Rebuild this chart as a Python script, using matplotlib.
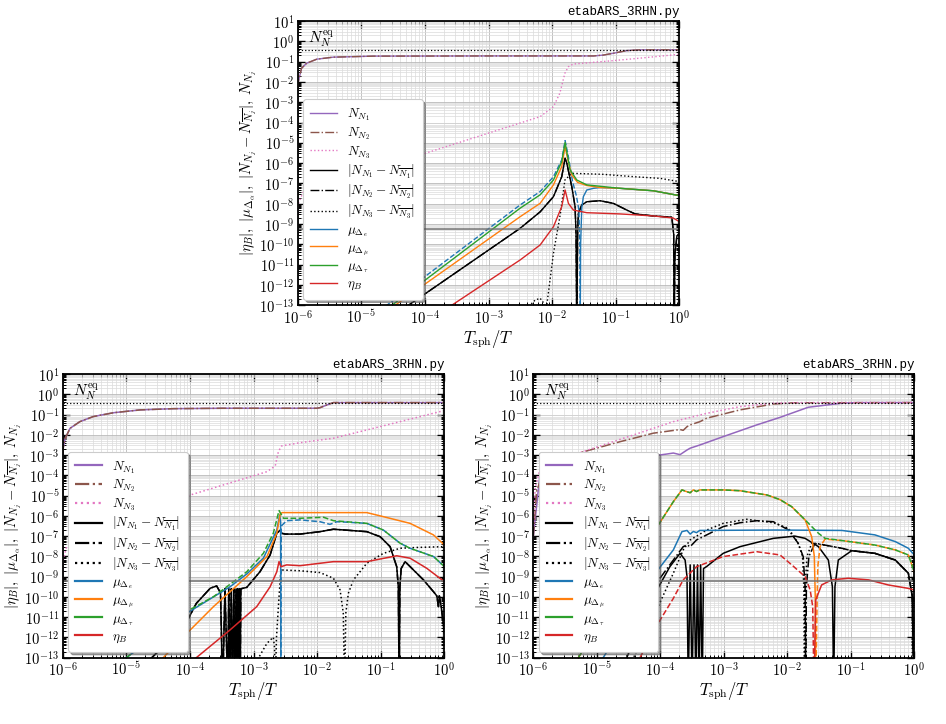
import numpy as np
import matplotlib
matplotlib.use('Agg')
import matplotlib.pyplot as plt
from matplotlib.ticker import LogLocator, FuncFormatter, NullFormatter
from matplotlib.lines import Line2D

plt.rcParams['mathtext.fontset'] = 'cm'
plt.rcParams['font.family'] = ['DejaVu Serif']
plt.rcParams['axes.unicode_minus'] = True

# ---------------- data: (log10 x, log10 y) points ----------------
# x = T_sph/T, y = quantity ; dips below the axis mark sign changes

# ===== top panel =====
TOP_NN1 = [(-6.0, -2.3), (-5.99, -1.99), (-5.94, -1.33), (-5.86, -1.08), (-5.70, -0.88), (-5.44, -0.78),
           (-4.81, -0.73), (-3.0, -0.72), (-1.35, -0.72), (-1.2, -0.68), (-1.04, -0.59), (-0.83, -0.46),
           (-0.62, -0.42), (0.0, -0.42)]
TOP_NN2 = [(-6.0, -2.3), (-5.99, -1.99), (-5.94, -1.33), (-5.86, -1.08), (-5.70, -0.88), (-5.44, -0.78),
           (-4.81, -0.73), (-3.0, -0.72), (-1.35, -0.72), (-1.2, -0.68), (-1.04, -0.59), (-0.83, -0.46),
           (-0.62, -0.42), (0.0, -0.42)]
TOP_NN3 = [(-6.0, -8.7), (-5.99, -7.98), (-5.91, -7.4), (-4.08, -5.6), (-2.19, -3.71), (-1.98, -3.22),
           (-1.88, -2.56), (-1.80, -1.57), (-1.745, -1.25), (-1.67, -1.12), (-1.14, -0.98), (-0.62, -0.83),
           (0.0, -0.64)]
TOP_N1DIFF = [(-4.5, -13.6), (-4.26, -13.0), (-2.505, -9.21), (-2.19, -8.4), (-1.98, -7.65), (-1.85, -6.67),
              (-1.797, -5.76), (-1.77, -6.0), (-1.692, -7.16), (-1.64, -8.14), (-1.625, -9.5), (-1.613, -14.5),
              (-1.6, -9.5), (-1.588, -8.47), (-1.535, -8.06), (-1.456, -7.9), (-1.247, -7.85), (-1.038, -7.98),
              (-0.827, -8.31), (-0.697, -8.5), (-0.41, -8.6), (-0.12, -8.66), (-0.09, -9.5), (-0.083, -14.5),
              (-0.07, -10.5), (-0.041, -9.6), (0.0, -9.45)]
TOP_N2DIFF = list(TOP_N1DIFF)
TOP_N3DIFF = [(-2.45, -14.5), (-2.35, -13.0), (-2.27, -12.75), (-2.19, -12.65), (-2.13, -12.9), (-2.1, -14.5),
              (-2.085, -13.0), (-1.98, -10.44), (-1.87, -8.47), (-1.8, -6.83), (-1.69, -6.5), (-1.2, -6.55),
              (-0.7, -6.67), (-0.3, -6.75), (0.0, -6.91)]
TOP_MUE_NEG = [(-4.8, -13.5), (-4.6, -13.0), (-2.505, -8.06), (-2.19, -7.4), (-1.98, -6.67), (-1.85, -5.84),
               (-1.797, -4.89), (-1.75, -5.6), (-1.68, -6.9), (-1.62, -7.6), (-1.58, -8.3), (-1.565, -10.0),
               (-1.56, -14.5)]
TOP_MUE_POS = [(-1.56, -14.5), (-1.553, -10.0), (-1.535, -8.2), (-1.51, -7.65), (-1.456, -7.32), (-1.35, -7.24),
               (-1.25, -7.2), (-0.932, -7.24), (-0.41, -7.36), (0.0, -7.6)]
TOP_MUMU = [(-4.7, -13.5), (-4.47, -13.0), (-2.505, -8.64), (-2.19, -7.98), (-1.98, -7.07), (-1.85, -6.17),
            (-1.797, -5.19), (-1.75, -5.9), (-1.69, -6.6), (-1.6, -6.95), (-1.456, -7.1), (-1.25, -7.2),
            (-0.932, -7.24), (-0.41, -7.36), (0.0, -7.6)]
TOP_MUTAU = [(-4.72, -13.5), (-4.52, -13.0), (-2.505, -8.22), (-2.19, -7.56), (-1.98, -6.83), (-1.85, -5.93),
             (-1.797, -4.98), (-1.719, -6.33), (-1.613, -6.83), (-1.456, -7.07), (-0.932, -7.24), (-0.41, -7.36),
             (0.0, -7.6)]
TOP_ETAB = [(-3.8, -13.5), (-3.58, -13.0), (-2.505, -10.77), (-2.19, -10.03), (-1.98, -9.13), (-1.85, -8.14),
            (-1.797, -7.32), (-1.745, -7.98), (-1.667, -8.31), (-1.456, -8.44), (-0.932, -8.5), (-0.41, -8.6),
            (-0.1, -8.7), (0.0, -8.88)]

# ===== bottom-left panel =====
BL_NN1 = [(-6.0, -3.0), (-5.99, -2.6), (-5.96, -2.17), (-5.885, -1.68), (-5.73, -1.35), (-5.52, -1.1),
          (-5.2, -0.91), (-4.78, -0.77), (-4.26, -0.71), (-3.5, -0.69), (-2.006, -0.69), (-1.955, -0.66),
          (-1.85, -0.53), (-1.745, -0.41), (0.0, -0.41)]
BL_NN2 = list(BL_NN1)
BL_NN3 = [(-6.0, -8.8), (-5.99, -8.18), (-5.94, -7.52), (-4.077, -5.05), (-2.79, -3.82), (-2.66, -3.54),
          (-2.61, -2.83), (-2.56, -2.55), (-2.27, -2.39), (-1.745, -2.17), (-1.22, -1.76), (-0.697, -1.35),
          (0.0, -0.8)]
BL_N1DIFF = [(-4.8, -13.5), (-4.6, -13.0), (-4.08, -11.4), (-3.9, -10.32), (-3.68, -9.57), (-3.58, -9.46),
             (-3.52, -9.8), (-3.485, -14.5), (-3.45, -9.6), (-3.406, -14.5), (-3.39, -9.6), (-3.37, -14.5),
             (-3.35, -9.6), (-3.33, -14.5), (-3.31, -9.6), (-3.29, -14.5), (-3.275, -9.6), (-3.26, -14.5),
             (-3.25, -9.6), (-3.24, -14.5), (-3.225, -9.6), (-3.21, -14.5), (-3.2, -9.6), (-3.107, -9.53),
             (-2.9, -8.76), (-2.74, -7.93), (-2.635, -6.86), (-2.58, -6.7), (-2.56, -6.86), (-2.5, -6.9),
             (-2.27, -6.9), (-1.955, -6.78), (-1.745, -6.66), (-1.22, -6.78), (-1.01, -7.03), (-0.854, -7.52),
             (-0.75, -8.51), (-0.725, -9.5), (-0.712, -14.5), (-0.7, -9.5), (-0.68, -8.6), (-0.618, -8.26),
             (-0.487, -8.67), (-0.33, -9.16), (-0.173, -9.74), (-0.12, -9.95), (-0.094, -10.48), (-0.08, -9.95),
             (-0.05, -10.5), (0.0, -11.8)]
BL_N2DIFF = list(BL_N1DIFF)
BL_N3DIFF = [(-3.0, -14.5), (-2.92, -13.0), (-2.79, -12.29), (-2.69, -11.99), (-2.67, -12.5), (-2.66, -14.5),
             (-2.64, -12.0), (-2.6, -10.0), (-2.57, -8.67), (-2.27, -8.71), (-1.955, -8.8), (-1.745, -9.08),
             (-1.64, -9.66), (-1.59, -10.8), (-1.57, -14.5), (-1.55, -10.8), (-1.51, -9.82), (-1.43, -9.16),
             (-1.22, -8.34), (-0.96, -7.85), (-0.697, -7.6), (-0.434, -7.56), (0.0, -7.52)]
BL_MUE_POS = [(-5.2, -13.5), (-5.0, -13.0), (-4.1, -10.9), (-3.37, -9.5), (-3.1, -8.85), (-2.846, -8.09),
              (-2.635, -6.7), (-2.59, -5.96), (-2.575, -6.3), (-2.57, -14.5)]
BL_MUE_NEG = [(-2.57, -14.5), (-2.565, -6.5), (-2.48, -6.24), (-2.27, -6.2), (-1.955, -6.29), (-1.8, -6.42),
              (-1.69, -6.29), (-1.6, -6.3), (-1.22, -6.37), (-0.96, -6.7), (-0.697, -7.35), (-0.54, -7.6),
              (-0.17, -8.01), (0.0, -8.51)]
BL_MUMU = [(-4.6, -13.5), (-4.42, -13.0), (-4.1, -11.96), (-3.63, -10.48), (-3.107, -9.0), (-2.79, -8.01),
           (-2.635, -6.86), (-2.58, -5.9), (-2.55, -5.84), (-1.22, -5.84), (-0.96, -6.04), (-0.54, -6.37),
           (-0.173, -6.94), (0.0, -7.44)]
BL_MUTAU = [(-5.2, -13.5), (-5.0, -13.0), (-4.104, -10.81), (-3.63, -9.99), (-3.107, -8.76), (-2.846, -7.85),
            (-2.69, -6.86), (-2.6, -5.74), (-2.53, -6.12), (-2.27, -6.12), (-1.9, -6.07), (-1.745, -6.24),
            (-1.22, -6.37), (-0.96, -6.7), (-0.697, -7.35), (-0.54, -7.6), (-0.17, -8.01), (0.0, -8.51)]
BL_ETAB = [(-4.1, -13.6), (-3.9, -13.0), (-3.37, -11.63), (-2.95, -10.48), (-2.74, -9.5), (-2.635, -8.76),
           (-2.6, -8.26), (-2.57, -8.51), (-2.48, -8.42), (-2.27, -8.46), (-1.745, -8.26), (-1.22, -8.26),
           (-0.75, -7.97), (-0.54, -8.09), (-0.277, -8.59), (0.0, -9.25)]

# ===== bottom-right panel =====
BR_NN1 = [(-6.0, -7.0), (-5.95, -5.55), (-5.9, -4.07), (-5.5, -3.6), (-5.0, -3.35), (-4.32, -3.08), (-4.11, -3.04),
          (-3.9, -2.95), (-3.795, -2.9), (-3.69, -2.98), (-3.58, -2.75), (-3.53, -2.66), (-3.375, -2.5),
          (-3.01, -2.09), (-2.48, -1.51), (-2.115, -1.14), (-1.67, -0.64), (-1.14, -0.44), (-0.9, -0.41),
          (0.0, -0.41)]
BR_NN2 = [(-6.0, -7.0), (-5.95, -4.8), (-5.85, -3.9), (-5.58, -3.16), (-4.635, -2.34), (-4.32, -2.09),
          (-4.11, -1.92), (-3.69, -1.74), (-3.64, -1.78), (-3.58, -1.6), (-3.53, -1.51), (-3.375, -1.35),
          (-3.27, -1.18), (-2.745, -0.77), (-2.22, -0.48), (-1.9, -0.42), (0.0, -0.41)]
BR_NN3 = [(-6.0, -6.5), (-5.97, -4.6), (-5.9, -3.75), (-5.42, -3.04), (-4.32, -1.9), (-3.795, -1.35),
          (-3.27, -0.94), (-2.745, -0.61), (-2.22, -0.44), (-1.8, -0.41), (0.0, -0.41)]
BR_N1DIFF = [(-4.6, -13.5), (-4.083, -9.82), (-3.85, -8.51), (-3.69, -7.85), (-3.61, -8.18), (-3.58, -9.0),
             (-3.56, -14.5), (-3.53, -8.42), (-3.50, -14.5), (-3.47, -8.42), (-3.44, -14.5), (-3.415, -8.42),
             (-3.39, -14.5), (-3.365, -8.42), (-3.34, -14.5), (-3.32, -8.6), (-3.27, -8.5), (-3.01, -7.85),
             (-2.745, -7.52), (-2.22, -7.11), (-1.88, -7.0), (-1.72, -7.11), (-1.51, -7.52), (-1.354, -8.18),
             (-1.29, -9.5), (-1.27, -14.5), (-1.25, -9.5), (-1.197, -8.18), (-0.986, -7.72), (-0.62, -7.85),
             (-0.3, -8.18), (-0.094, -8.83), (-0.031, -9.99), (-0.01, -14.5)]
BR_N2DIFF = [(-4.6, -13.5), (-4.083, -9.41), (-3.795, -8.18), (-3.64, -7.52), (-3.58, -7.44), (-3.53, -7.52),
             (-3.43, -7.19), (-3.27, -6.94), (-3.01, -6.53), (-2.745, -6.34), (-2.48, -6.24), (-2.22, -6.29),
             (-1.98, -6.7), (-1.83, -7.35), (-1.75, -8.01), (-1.72, -9.5), (-1.71, -14.5), (-1.70, -9.5),
             (-1.66, -8.0), (-1.564, -7.35), (-1.14, -7.6), (-0.986, -7.72), (-0.62, -7.85), (-0.3, -8.18),
             (-0.094, -8.83), (-0.031, -9.99), (-0.01, -14.5)]
BR_N3DIFF = [(-4.5, -13.5), (-4.083, -10.81), (-3.795, -8.83), (-3.64, -7.68), (-3.53, -7.19), (-3.27, -6.7),
             (-3.01, -6.37), (-2.64, -6.17), (-2.22, -6.34), (-1.98, -6.62), (-1.83, -7.35), (-1.76, -8.0),
             (-1.74, -9.5), (-1.73, -14.5), (-1.72, -9.5), (-1.69, -8.0), (-1.616, -7.35), (-1.5, -7.4),
             (-1.14, -7.6), (-0.986, -7.72), (-0.62, -7.85), (-0.3, -8.18), (-0.094, -8.83), (-0.031, -9.99),
             (-0.01, -14.5)]
BR_MUE = [(-5.1, -13.6), (-4.9, -13.0), (-4.083, -8.85), (-3.795, -7.68), (-3.66, -6.78), (-3.58, -6.72),
          (-3.53, -6.9), (-3.48, -6.77), (-3.43, -6.83), (-3.38, -6.72), (-2.19, -6.7), (-1.14, -6.72),
          (-0.62, -6.94), (-0.3, -7.27), (-0.094, -7.6), (0.0, -7.93)]
BR_MUMU_POS = [(-5.45, -13.6), (-5.29, -13.0), (-4.083, -6.7), (-3.795, -5.3), (-3.66, -4.72), (-3.58, -4.81),
               (-3.53, -4.86), (-3.48, -4.72), (-3.43, -4.8), (-3.38, -4.72), (-3.01, -4.72), (-2.745, -4.76),
               (-2.32, -4.97), (-2.115, -5.2), (-1.93, -5.55), (-1.72, -6.2), (-1.616, -7.03), (-1.575, -8.0),
               (-1.56, -10.0), (-1.553, -14.5)]
BR_MUMU_NEG = [(-1.553, -14.5), (-1.53, -10.0), (-1.52, -8.5), (-1.485, -7.52), (-1.406, -7.15), (-1.14, -7.22),
               (-0.62, -7.44), (-0.3, -7.68), (-0.094, -7.93), (-0.03, -8.5), (0.0, -8.8)]
BR_MUTAU = [(-5.45, -13.6), (-5.29, -13.0), (-4.083, -6.7), (-3.795, -5.3), (-3.66, -4.72), (-3.58, -4.81),
            (-3.53, -4.86), (-3.48, -4.72), (-3.43, -4.8), (-3.38, -4.72), (-3.01, -4.72), (-2.745, -4.76),
            (-2.32, -4.97), (-2.115, -5.2), (-1.93, -5.55), (-1.72, -6.2), (-1.616, -6.53), (-1.51, -6.86),
            (-1.406, -7.11), (-1.14, -7.22), (-0.62, -7.44), (-0.3, -7.68), (-0.094, -7.93), (-0.03, -8.5),
            (0.0, -8.8)]
BR_ETAB_NEG = [(-4.5, -14.5), (-4.32, -13.0), (-4.083, -11.55), (-3.795, -10.07), (-3.64, -9.16), (-3.43, -8.51),
               (-3.01, -8.01), (-2.48, -7.77), (-2.115, -7.93), (-1.93, -8.42), (-1.72, -9.0), (-1.64, -9.66),
               (-1.6, -10.48), (-1.58, -14.5)]
BR_ETAB_POS = [(-1.58, -14.5), (-1.553, -10.15), (-1.46, -9.41), (-1.3, -9.16), (-1.04, -9.08), (-0.72, -9.16),
               (-0.41, -9.41), (-0.094, -9.58), (0.0, -9.66)]

N_EQ = 0.385          # equilibrium abundance (dotted line)
ETA_OBS = 6.0e-10     # observed baryon asymmetry (grey line)

LABELS = [r'$N_{N_1}$', r'$N_{N_2}$', r'$N_{N_3}$',
          r'$|N_{N_1} - N_{\overline{N_1}}|$', r'$|N_{N_2} - N_{\overline{N_2}}|$',
          r'$|N_{N_3} - N_{\overline{N_3}}|$',
          r'$\mu_{\Delta_e}$', r'$\mu_{\Delta_\mu}$', r'$\mu_{\Delta_\tau}$', r'$\eta_B$']
YLABEL = r'$|\eta_B|,\ |\mu_{\Delta_\alpha}|,\ |N_{N_j} - N_{\overline{N_j}}|,\ N_{N_j}$'
XLABEL = r'$T_{\rm sph}/T$'
TITLE = 'etabARS_3RHN.py'

# ---------------- styling ----------------
PURPLE, BROWN, PINK = '#9467bd', '#8c564b', '#e377c2'
BLUE, ORANGE, GREEN, RED = '#1f77b4', '#ff7f0e', '#2ca02c', '#d62728'
LEG_STYLES = [(PURPLE, '-'), (BROWN, '-.'), (PINK, ':'), ('k', '-'), ('k', '-.'), ('k', ':'),
              (BLUE, '-'), (ORANGE, '-'), (GREEN, '-'), (RED, '-')]

POW10 = FuncFormatter(lambda v, p: r'$10^{%d}$' % int(round(np.log10(v))))


def xy(pts):
    a = np.asarray(pts, dtype=float)
    return 10.0 ** a[:, 0], 10.0 ** a[:, 1]


def setup(ax, lines, lw, leg_lw):
    ax.set_xscale('log')
    ax.set_yscale('log')
    for pts, c, ls in lines:
        x, y = xy(pts)
        ax.plot(x, y, color=c, ls=ls, lw=lw)
    ax.axhline(N_EQ, color='k', ls=':', lw=0.9)
    ax.axhline(ETA_OBS, color='0.45', ls='-', lw=1.1)
    ax.text(1.45e-6, 10 ** 0.12, r'$N_N^{\rm eq}$', fontsize=11, va='center', ha='left')
    ax.set_xlim(1e-6, 1.0)
    ax.set_ylim(1e-13, 10.0)
    ax.xaxis.set_major_locator(LogLocator(base=10, numticks=30))
    ax.xaxis.set_minor_locator(LogLocator(base=10, subs=np.arange(2, 10) * 1.0, numticks=300))
    ax.yaxis.set_major_locator(LogLocator(base=10, numticks=30))
    ax.yaxis.set_minor_locator(LogLocator(base=10, subs=np.arange(2, 10) * 1.0, numticks=300))
    ax.xaxis.set_major_formatter(POW10)
    ax.yaxis.set_major_formatter(POW10)
    ax.xaxis.set_minor_formatter(NullFormatter())
    ax.yaxis.set_minor_formatter(NullFormatter())
    ax.tick_params(which='both', direction='in', top=True, right=True)
    ax.tick_params(which='major', length=5, width=1.0, labelsize=10.5, pad=2.5)
    ax.tick_params(which='minor', length=2.5, width=0.7)
    ax.grid(which='major', color='0.72', lw=0.6)
    ax.grid(which='minor', color='0.86', lw=0.5)
    ax.set_axisbelow(True)
    for s in ax.spines.values():
        s.set_linewidth(1.3)
    ax.set_xlabel(XLABEL, fontsize=12, labelpad=1)
    ax.set_ylabel(YLABEL, fontsize=10.5, labelpad=1)
    ax.text(1.0, 1.012, TITLE, transform=ax.transAxes, ha='right', va='bottom',
            family='Liberation Mono', fontsize=9)
    handles = [Line2D([], [], color=c, ls=ls, lw=leg_lw) for c, ls in LEG_STYLES]
    leg = ax.legend(handles, LABELS, loc='lower left', bbox_to_anchor=(0.014, 0.02), fontsize=9.5,
                    frameon=True, fancybox=True, shadow=True, framealpha=1.0, edgecolor='0.8',
                    borderpad=0.55, labelspacing=0.14, handlelength=2.0, handletextpad=0.8,
                    borderaxespad=0.0)
    leg.get_frame().set_linewidth(0.8)


fig = plt.figure(figsize=(9.46, 7.24), dpi=100)
ax_top = fig.add_axes([0.3147, 0.5783, 0.4035, 0.3927])
ax_bl = fig.add_axes([0.0663, 0.0916, 0.4035, 0.3918])
ax_br = fig.add_axes([0.5638, 0.0916, 0.4027, 0.3918])

top_lines = [(TOP_NN1, PURPLE, '-'), (TOP_NN2, BROWN, '-.'), (TOP_NN3, PINK, ':'),
             (TOP_N2DIFF, 'k', '-.'), (TOP_N1DIFF, 'k', '-'), (TOP_N3DIFF, 'k', ':'),
             (TOP_MUE_NEG, BLUE, '--'), (TOP_MUE_POS, BLUE, '-'), (TOP_MUMU, ORANGE, '-'),
             (TOP_MUTAU, GREEN, '-'), (TOP_ETAB, RED, '-')]
bl_lines = [(BL_NN1, PURPLE, '-'), (BL_NN2, BROWN, '-.'), (BL_NN3, PINK, ':'),
            (BL_N2DIFF, 'k', '-.'), (BL_N1DIFF, 'k', '-'), (BL_N3DIFF, 'k', ':'),
            (BL_MUE_POS, BLUE, '-'), (BL_MUE_NEG, BLUE, '--'), (BL_MUMU, ORANGE, '-'),
            (BL_MUTAU, GREEN, '--'), (BL_ETAB, RED, '-')]
br_lines = [(BR_NN1, PURPLE, '-'), (BR_NN2, BROWN, '-.'), (BR_NN3, PINK, ':'),
            (BR_N1DIFF, 'k', '-'), (BR_N2DIFF, 'k', '-.'), (BR_N3DIFF, 'k', ':'),
            (BR_MUE, BLUE, '-'), (BR_MUMU_POS, ORANGE, '-'), (BR_MUMU_NEG, ORANGE, '--'),
            (BR_MUTAU, GREEN, '--'), (BR_ETAB_NEG, RED, '--'), (BR_ETAB_POS, RED, '-')]

setup(ax_top, top_lines, 1.0, 1.0)
setup(ax_bl, bl_lines, 1.1, 1.6)
setup(ax_br, br_lines, 1.1, 1.6)

fig.savefig('out.png', dpi=100)
